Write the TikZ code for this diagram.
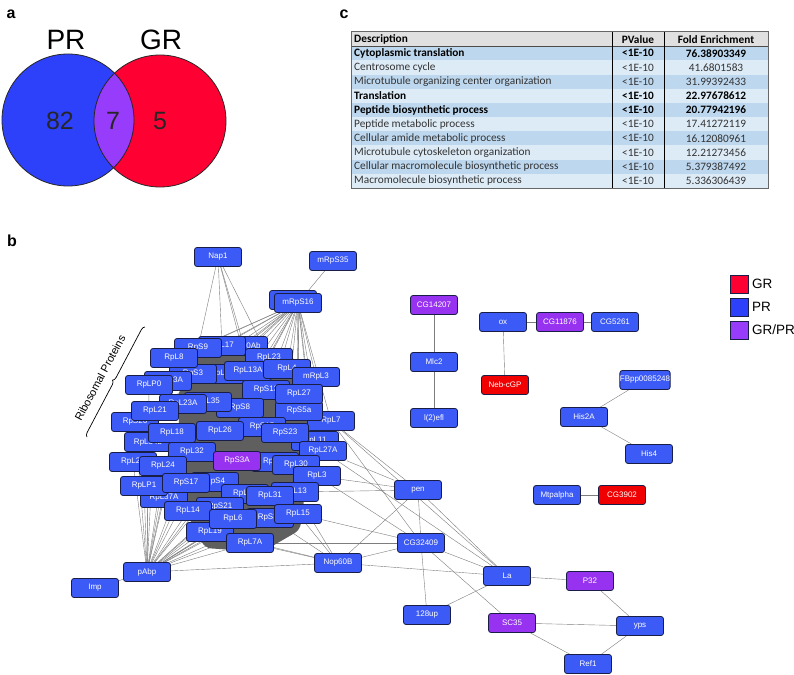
\documentclass[tikz,border=0pt]{standalone}
\usepackage{fontspec}
\setmainfont{Liberation Sans}
\newfontfamily\tabfont{Carlito}
\usetikzlibrary{decorations.pathreplacing}

\pgfdeclarelayer{edgelayer}
\pgfdeclarelayer{bloblayer}
\pgfsetlayers{edgelayer,bloblayer,main}

\definecolor{vennblue}{RGB}{45,65,250}
\definecolor{vennred}{RGB}{255,0,51}
\definecolor{vennpurple}{RGB}{150,60,250}
\definecolor{nodeblue}{RGB}{60,90,245}
\definecolor{nodered}{RGB}{240,0,0}
\definecolor{nodepurple}{RGB}{150,50,240}
\definecolor{nodeline}{RGB}{25,30,70}
\definecolor{edgegray}{RGB}{125,125,125}
\definecolor{blobgray}{RGB}{95,95,95}
\definecolor{rowdark}{RGB}{189,215,238}
\definecolor{rowlight}{RGB}{221,235,247}
\definecolor{rowhead}{RGB}{224,224,224}

\begin{document}
\begin{tikzpicture}[
    x=1pt, y=-1pt,
    % Network nodes
    gene/.style={
        draw=nodeline, line width=0.8pt, rounded corners=2.5pt,
        text=white, font=\fontsize{8}{9}\selectfont,
        minimum width=47pt, minimum height=19pt, inner sep=0pt
    },
    pr/.style={gene, fill=nodeblue},
    gr/.style={gene, fill=nodered},
    grpr/.style={gene, fill=nodepurple},
    edge/.style={draw=edgegray, line width=0.4pt},
    % Panel letters
    panel/.style={font=\fontsize{16}{16}\selectfont\bfseries},
    % Table text
    tabnorm/.style={font=\tabfont\fontsize{11.3}{12}\selectfont, text=black!80, inner sep=0pt},
    tabbold/.style={font=\tabfont\fontsize{11.3}{12}\selectfont\bfseries, text=black, inner sep=0pt},
    legbox/.style={draw=nodeline, line width=0.8pt, minimum size=18pt, inner sep=0pt},
    legtxt/.style={font=\fontsize{13.5}{14}\selectfont, anchor=west, inner sep=0pt}
]
\useasboundingbox (0,0) rectangle (794,674);
\begin{pgfonlayer}{edgelayer}
\fill[white] (0,0) rectangle (794,674);
\end{pgfonlayer}

% ---- PANEL A: VENN ----
\node[panel] (lab_a) at (11,14) {a};
\fill[vennblue] (68,120) circle[radius=66pt];
\fill[vennred] (160,121) circle[radius=66pt];
\begin{scope}
  \clip (68,120) circle[radius=66pt];
  \fill[vennpurple] (160,121) circle[radius=66pt];
\end{scope}
\draw[line width=0.8pt, black!85] (68,120) circle[radius=66pt];
\draw[line width=0.8pt, black!85] (160,121) circle[radius=66pt];
\node[font=\fontsize{28}{28}\selectfont] (t_pr) at (66,40) {PR};
\node[font=\fontsize{28}{28}\selectfont] (t_gr) at (161,40) {GR};
\node[font=\fontsize{25}{25}\selectfont, text=black!85] (n_pr)   at (60,121)  {82};
\node[font=\fontsize{25}{25}\selectfont, text=black!85] (n_both) at (113,121) {7};
\node[font=\fontsize{25}{25}\selectfont, text=black!85] (n_gr)   at (160,121) {5};

% ---- PANEL C: GO TABLE ----
\node[panel] (lab_c) at (344,14) {c};
\fill[rowhead] (351,32) rectangle (768,46.18);
\foreach \i/\rc/\st/\desc/\fe in {
    1/rowdark/tabbold/Cytoplasmic translation/76.38903349,
    2/rowlight/tabnorm/Centrosome cycle/41.6801583,
    3/rowdark/tabnorm/Microtubule organizing center organization/31.99392433,
    4/rowlight/tabbold/Translation/22.97678612,
    5/rowdark/tabbold/Peptide biosynthetic process/20.77942196,
    6/rowlight/tabnorm/Peptide metabolic process/17.41272119,
    7/rowdark/tabnorm/Cellular amide metabolic process/16.12080961,
    8/rowlight/tabnorm/Microtubule cytoskeleton organization/12.21273456,
    9/rowdark/tabnorm/Cellular macromolecule biosynthetic process/5.379387492,
    10/rowlight/tabnorm/Macromolecule biosynthetic process/5.336306439} {
  \fill[\rc] (351,{32+\i*14.18}) rectangle (768,{32+(\i+1)*14.18});
  \node[\st, anchor=west] (desc\i) at (354,{32+(\i+0.5)*14.18}) {\desc};
  \node[\st] (pv\i) at (638,{32+(\i+0.5)*14.18}) {<1E-10};
  \node[\st] (fe\i) at (716,{32+(\i+0.5)*14.18}) {\fe};
}
\node[tabbold, anchor=west] (desc0) at (354,39.1) {Description};
\node[tabbold] (pv0) at (638,39.1) {PValue};
\node[tabbold] (fe0) at (716,39.1) {Fold Enrichment};
\draw[black!70, line width=0.6pt] (351,46.18) -- (768,46.18);
\draw[black, line width=0.8pt] (612,32) -- (612,188);
\draw[black, line width=0.8pt] (664,32) -- (664,188);
\draw[black!60, line width=1pt] (351,32) rectangle (768,188);

% ---- PANEL B: NETWORK ----
\node[panel] (lab_b) at (12,241) {b};

% Legend
\node[legbox, fill=vennred]    (leg_gr)   at (739,284) {};
\node[legbox, fill=vennblue]   (leg_pr)   at (739,307) {};
\node[legbox, fill=vennpurple] (leg_grpr) at (739,330) {};
\node[legtxt] at (752,284) {GR};
\node[legtxt] at (752,307) {PR};
\node[legtxt] at (752,330) {GR/PR};

% Upper hub nodes
\node[pr] (Nap1)    at (218,257) {Nap1};
\node[pr] (mRpS35)  at (333,261) {mRpS35};
\node[pr] (mRpS16b) at (293,300) {};
\node[pr] (mRpS16)  at (298,303) {mRpS16};

% Ribosomal cluster (back to front)
\node[pr] (RpL10Ab) at (244,346) {RpL10Ab};
\node[pr] (RpL17)   at (222,346) {RpL17};
\node[pr] (RpS9)    at (198,348) {RpS9};
\node[pr] (RpL23)   at (269,358) {RpL23};
\node[pr] (RpL12)   at (222,374) {RpL12};
\node[pr] (RpS3)    at (193,374) {RpS3};
\node[pr] (RpL8)    at (174,358) {RpL8};
\node[pr] (RpL13A)  at (248,371) {RpL13A};
\node[pr] (RpL4)    at (287,369) {RpL4};
\node[pr] (mRpL3)   at (316,377) {mRpL3};
\node[pr] (RpS13)   at (266,390) {RpS13};
\node[pr] (RpL3A)   at (168,381) {RpS13A};
\node[pr] (RpLP0)   at (149,385) {RpLP0};
\node[pr] (RpS8)    at (240,408) {RpS8};
\node[pr] (RpL35)   at (208,402) {RpL35};
\node[pr] (RpL23A)  at (183,404) {RpL23A};
\node[pr] (RpL7)    at (331,421) {RpL7};
\node[pr] (RpS5a)   at (299,411) {RpS5a};
\node[pr] (RpL27)   at (299,394) {RpL27};
\node[pr] (RpS26)   at (135,422) {RpS26};
\node[pr] (RpL34b)  at (148,442) {RpL34b};
\node[pr] (RpL21)   at (155,411) {RpL21};
\node[pr] (RpL18)   at (172,433) {RpL18};
\node[pr] (RpS15)   at (262,427) {RpS15};
\node[pr] (RpL26)   at (220,431) {RpL26};
\node[pr] (RpL11)   at (315,441) {RpL11};
\node[pr] (RpS23)   at (285,433) {RpS23};
\node[pr] (RpL27A)  at (323,451) {RpL27A};
\node[pr] (RpL32)   at (192,452) {RpL32};
\node[pr] (RpL10)   at (275,462) {RpL10};
\node[grpr] (RpS3A) at (237,461) {RpS3A};
\node[pr] (RpL30)   at (296,465) {RpL30};
\node[pr] (RpL3)    at (317,476) {RpL3};
\node[pr] (RpL22)   at (133,462) {RpL22};
\node[pr] (RpL24)   at (163,466) {RpL24};
\node[pr] (RpL37A)  at (164,498) {RpL37A};
\node[pr] (RpLP1)   at (144,486) {RpLP1};
\node[pr] (RpS4)    at (215,482) {RpS4};
\node[pr] (RpS17)   at (186,483) {RpS17};
\node[pr] (RpL36)   at (245,494) {RpL36};
\node[pr] (RpL13)   at (295,492) {RpL13};
\node[pr] (RpL31)   at (270,496) {RpL31};
\node[pr] (RpS21)   at (220,507) {RpS21};
\node[pr] (RpL14)   at (188,511) {RpL14};
\node[pr] (RpS30)   at (270,518) {RpS30};
\node[pr] (RpL15)   at (298,514) {RpL15};
\node[pr] (RpL19)   at (210,532) {RpL19};
\node[pr] (RpL6)    at (233,519) {RpL6};
\node[pr] (RpL7A)   at (250,543) {RpL7A};

% Lower left nodes
\node[pr] (pAbp)   at (147,572) {pAbp};
\node[pr] (Imp)    at (95,588)  {Imp};
\node[pr] (Nop60B) at (338,563) {Nop60B};

% Right side modules
\node[pr] (pen)      at (418,490) {pen};
\node[pr] (CG32409)  at (421,543) {CG32409};
\node[pr] (La)       at (507,576) {La};
\node[grpr] (P32)    at (590,581) {P32};
\node[pr] (up128)    at (427,615) {128up};
\node[grpr] (SC35)   at (512,623) {SC35};
\node[pr] (yps)      at (640,626) {yps};
\node[pr] (Ref1)     at (588,664) {Ref1};
\node[pr] (Mtpalpha) at (557,495) {Mtpalpha};
\node[gr] (CG3902)   at (622,495) {CG3902};
\node[grpr] (CG14207) at (434,305) {CG14207};
\node[pr] (Mlc2)     at (434,362) {Mlc2};
\node[pr] (l2efl)    at (434,418) {l(2)efl};
\node[pr] (ox)       at (503,322) {ox};
\node[grpr] (CG11876) at (560,322) {CG11876};
\node[pr] (CG5261)   at (615,322) {CG5261};
\node[gr] (NebcGP)   at (505,385) {Neb-cGP};
\node[pr] (FBpp)     at (645,380) {FBpp0085248};
\node[pr] (His2A)    at (584,417) {His2A};
\node[pr] (His4)     at (649,454) {His4};

% Label for the ribosomal cluster
\draw[decorate, decoration={brace, amplitude=4pt}, line width=0.7pt]
    (87,437) -- (145,327);
\node[rotate=62, font=\fontsize{11}{11}\selectfont] (ribo) at (100,378) {Ribosomal Proteins};

% Dense core behind the cluster
\begin{pgfonlayer}{bloblayer}
\fill[blobgray, rounded corners=6pt] (196,352) -- (290,352) -- (306,385) -- (308,470)
    -- (300,530) -- (262,552) -- (205,548) -- (182,505) -- (178,395) -- cycle;
\end{pgfonlayer}

% ---- CONNECTORS ----
\begin{pgfonlayer}{edgelayer}
\foreach \t in {RpS9,RpL17,RpL10Ab,RpL23,RpL13A}
  \draw[edge] (Nap1) -- (\t);
\draw[edge] (mRpS35) -- (mRpS16);
\foreach \t in {RpS9,RpL17,RpL10Ab,RpL23,RpL13A,RpL4,mRpL3,RpL8,RpLP0,RpS3,
                RpL27,RpS13,RpS5a,RpL7,RpL11,RpL27A,RpL21,RpL23A,RpL35,RpS8,
                RpL26,RpS15,RpS23,RpL3,RpL30,RpL12}
  \draw[edge] (mRpS16) -- (\t);
\foreach \t in {RpLP1,RpL37A,RpL14,RpL19,RpL7A,RpL6,RpS30,RpL15,RpL31,RpL13,
                RpL22,RpL24,RpS17,RpS4,RpL34b,RpS26,RpL21,RpLP0,RpL18,RpL32,
                RpL36,RpL30,RpL3,RpS21,RpL10,RpS3A,RpL26,RpL23A}
  \draw[edge] (pAbp) -- (\t);
\foreach \s/\t in {RpL7/pen, RpL27A/pen, RpL3/pen, RpL13/pen,
                   RpL7/CG32409, RpL3/CG32409, RpL15/CG32409, RpL7A/CG32409,
                   RpL7A/Nop60B, RpL19/Nop60B, RpS30/Nop60B, RpL15/Nop60B,
                   RpL13/Nop60B, RpL27A/La, RpL7/La,
                   pen/CG32409, pen/La, pen/Nop60B, CG32409/La, CG32409/up128,
                   CG32409/SC35, CG32409/Nop60B, Nop60B/La, La/up128, La/P32,
                   P32/yps, SC35/yps, SC35/Ref1, yps/Ref1, pAbp/Nop60B, pAbp/Imp,
                   Mtpalpha/CG3902, CG14207/Mlc2, Mlc2/l2efl, ox/CG11876,
                   CG11876/CG5261, ox/NebcGP, FBpp/His2A, His2A/His4}
  \draw[edge] (\s) -- (\t);
\end{pgfonlayer}

\end{tikzpicture}
\end{document}
